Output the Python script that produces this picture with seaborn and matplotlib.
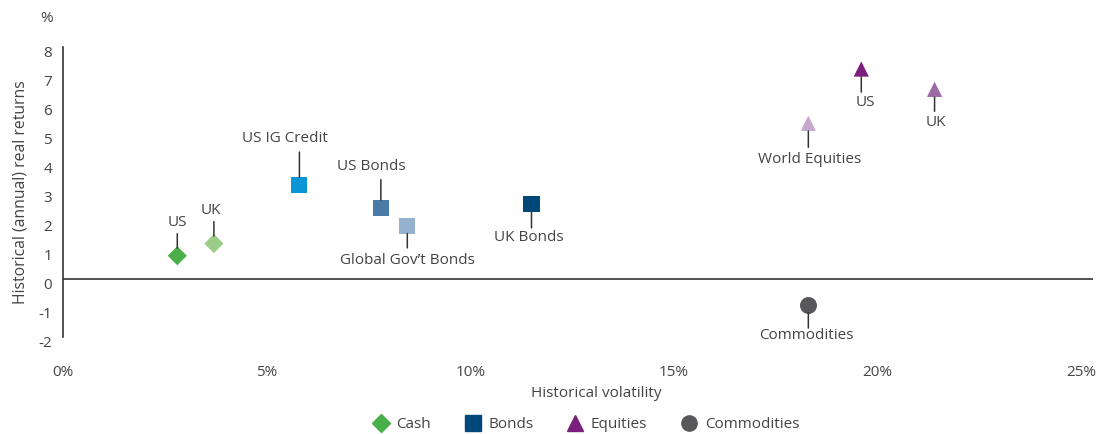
import pandas as pd
import numpy as np
import matplotlib
matplotlib.use("Agg")
import matplotlib.pyplot as plt
from matplotlib.lines import Line2D
from matplotlib.transforms import ScaledTranslation
import seaborn as sns

# --- chart data ---
labels = ["US", "UK", "US IG Credit", "US Bonds", "Global Gov\u2019t Bonds", "UK Bonds",
          "US", "UK", "World Equities", "Commodities"]
asset_class = ["Cash", "Cash", "Bonds", "Bonds", "Bonds", "Bonds",
               "Equities", "Equities", "Equities", "Commodities"]
volatility = [2.8, 3.7, 5.8, 7.8, 8.45, 11.5, 19.6, 21.4, 18.3, 18.3]
real_return = [0.81, 1.23, 3.25, 2.47, 1.84, 2.6, 7.25, 6.55, 5.38, -0.89]
point_colors = ["#4aae4a", "#9ccd88", "#0a96d6", "#4a7aa6", "#96b1d0", "#00477a",
                "#7b1f7f", "#9d6aa6", "#c7a7cd", "#58585a"]

legend_names = ["Cash", "Bonds", "Equities", "Commodities"]
legend_colors = ["#4aae4a", "#00477a", "#7b1f7f", "#58585a"]

x_ticks = [0, 5, 10, 15, 20, 25]
x_tick_labels = ["0%", "5%", "10%", "15%", "20%", "25%"]
y_ticks = [-2, -1, 0, 1, 2, 3, 4, 5, 6, 7, 8]

df = pd.DataFrame({"label": labels, "asset": asset_class,
                   "vol": volatility, "ret": real_return})
df["key"] = [f"{a}-{l}" for a, l in zip(asset_class, labels)]

# layout for labels: (line length px, label dx px, label dy px), positive = up
label_layout = [(22, 0, 33), (22, -3, 33), (33, -14, 47), (28, -10, 41),
                (-22, 0, -35), (-24, -3, -34), (-23, 4, -33), (-22, 1, -33),
                (-24, 1, -36), (-23, -2, -30)]

markers = {"Cash": "D", "Bonds": "s", "Equities": "^", "Commodities": "o"}
sizes = {"Cash": 95, "Bonds": 135, "Equities": 120, "Commodities": 150}

sns.set_style("white")
plt.rcParams["font.family"] = ["Open Sans", "DejaVu Sans"]
plt.rcParams["axes.unicode_minus"] = False
text_col = "#444444"

fig = plt.figure(figsize=(11.1, 4.34), dpi=100)
ax = fig.add_axes([0.057, 0.223, 0.928, 0.668])

for asset, grp in df.groupby("asset", sort=False):
    sns.scatterplot(data=grp, x="vol", y="ret", hue="key",
                    palette=[point_colors[i] for i in grp.index],
                    marker=markers[asset], s=sizes[asset], linewidth=0,
                    legend=False, ax=ax, zorder=3)

px = 0.72  # px -> points at 100 dpi
for i, row in df.iterrows():
    line_len, dx, dy = label_layout[i]
    ax.annotate("", xy=(row.vol, row.ret), xytext=(0, line_len * px),
                textcoords="offset points",
                arrowprops=dict(arrowstyle="-", color="#333333", lw=1.1,
                                shrinkA=0, shrinkB=5.5))
    ax.annotate(row.label, xy=(row.vol, row.ret), xytext=(dx * px, dy * px),
                textcoords="offset points", ha="center", va="center",
                fontsize=11, color=text_col)

ax.axhline(0, color="#333333", lw=1.2, zorder=1)
ax.set_xlim(0, 25.3)
ax.set_ylim(-2, 8)
ax.set_xticks(x_ticks)
ax.set_xticklabels(x_tick_labels)
ax.set_yticks(y_ticks)
ax.tick_params(axis="both", length=0, labelsize=11, labelcolor=text_col)
ax.tick_params(axis="x", pad=20)
ax.tick_params(axis="y", pad=8)
for lab in ax.get_yticklabels():
    lab.set_transform(lab.get_transform() + ScaledTranslation(0, -0.04, fig.dpi_scale_trans))
for side in ["top", "right", "bottom"]:
    ax.spines[side].set_visible(False)
ax.spines["left"].set_color("#333333")
ax.spines["left"].set_linewidth(1.2)

ax.set_xlabel("")
ax.set_ylabel("Historical (annual) real returns", fontsize=11.3, color=text_col, labelpad=7)
fig.text(0.537, 0.094, "Historical volatility", fontsize=11, color=text_col,
         ha="center", va="center")
fig.text(0.042, 0.958, "%", fontsize=11, color=text_col, ha="center", va="center")

handles = [Line2D([], [], marker=markers[n], color=c, linestyle="none",
                  markersize=11 if n != "Cash" else 9.5)
           for n, c in zip(legend_names, legend_colors)]
fig.legend(handles, legend_names, loc="center", bbox_to_anchor=(0.528, 0.021),
           ncol=4, frameon=False, fontsize=11, labelcolor=text_col,
           handletextpad=0.5, columnspacing=2.27, handlelength=1.0)

fig.savefig("out.png", dpi=100)
